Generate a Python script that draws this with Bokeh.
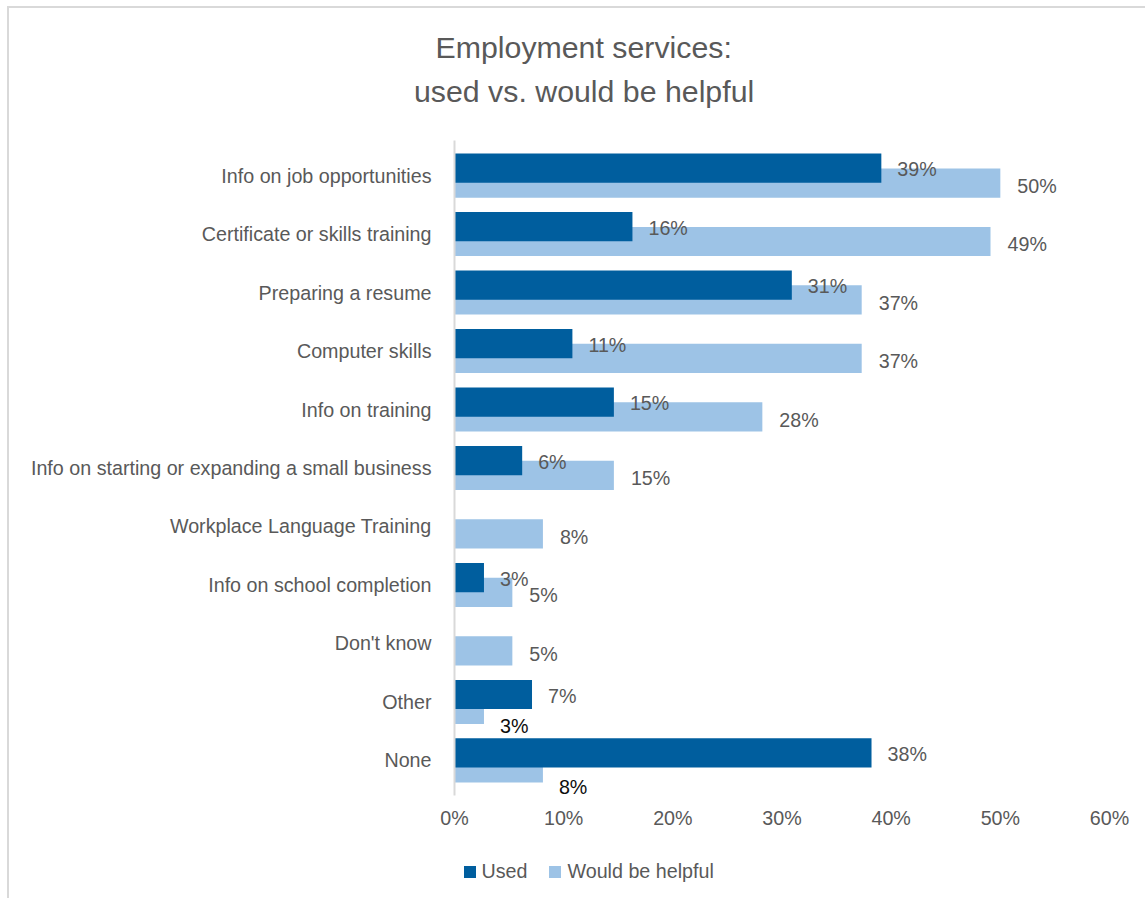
from bokeh.plotting import figure
from bokeh.layouts import column
from bokeh.models import (FactorRange, Range1d, ColumnDataSource, LabelSet, Label, Title,
                          Legend, LegendItem, FixedTicker, NumeralTickFormatter)
from bokeh.core.properties import value
from bokeh.transform import dodge
from bokeh.embed import file_html
from bokeh.resources import INLINE

# ---------------- data ----------------
categories = [
    "Info on job opportunities",
    "Certificate or skills training",
    "Preparing a resume",
    "Computer skills",
    "Info on training",
    "Info on starting or expanding a small business",
    "Workplace Language Training",
    "Info on school completion",
    "Don't know",
    "Other",
    "None",
]
used = [0.391, 0.163, 0.309, 0.108, 0.146, 0.062, 0.0, 0.027, 0.0, 0.071, 0.382]
helpful = [0.500, 0.491, 0.373, 0.373, 0.282, 0.146, 0.081, 0.053, 0.053, 0.027, 0.081]
used_labels = ["39%", "16%", "31%", "11%", "15%", "6%", "", "3%", "", "7%", "38%"]
helpful_labels = ["50%", "49%", "37%", "37%", "28%", "15%", "8%", "5%", "5%", "3%", "8%"]
x_ticks = [0.0, 0.1, 0.2, 0.3, 0.4, 0.5, 0.6]
series_names = ["Used", "Would be helpful"]
title_lines = ["Employment services:", "used vs. would be helpful"]

# ---------------- style ----------------
FONT = "Liberation Sans"
FS = "19.7px"
DARK = "#005E9E"
LIGHT = "#9DC3E6"
TXT = "#595959"
BORDER = "2px solid #D9D9D9"
OFF = 0.127
BAR_H = 0.50

n_special = 2  # last two "would be helpful" labels are drawn lower, in black
src = ColumnDataSource(dict(cat=categories, used=used, helpful=helpful,
                            ul=used_labels, hl=helpful_labels))
src_h_main = ColumnDataSource(dict(cat=categories[:-n_special], helpful=helpful[:-n_special],
                                   hl=helpful_labels[:-n_special]))

p = figure(width=1138, height=830,
           y_range=FactorRange(*reversed(categories), range_padding=0.1,
                               range_padding_units="absolute"),
           x_range=Range1d(0, 0.6),
           output_backend="svg", toolbar_location=None,
           min_border_left=445, min_border_right=38,
           min_border_top=132, min_border_bottom=43)
p.margin = (6, 0, 0, 7)
p.styles = {"border-top": BORDER, "border-left": BORDER}
p.outline_line_color = None
p.xgrid.grid_line_color = None
p.ygrid.grid_line_color = None
p.background_fill_color = "white"
p.border_fill_color = "white"

r_help = p.hbar(y=dodge("cat", -OFF, range=p.y_range), left=0, right="helpful",
                height=BAR_H, source=src, fill_color=LIGHT, line_color=None)
r_used = p.hbar(y=dodge("cat", OFF, range=p.y_range), left=0, right="used",
                height=BAR_H, source=src, fill_color=DARK, line_color=None)

# axes
p.xaxis.ticker = FixedTicker(ticks=x_ticks)
p.xaxis.formatter = NumeralTickFormatter(format="0%")
p.xaxis.axis_line_color = None
p.xaxis.major_tick_line_color = None
p.xaxis.minor_tick_line_color = None
p.xaxis.major_label_text_font = FONT
p.xaxis.major_label_text_font_size = FS
p.xaxis.major_label_text_color = TXT
p.xaxis.major_label_standoff = 5

p.yaxis.axis_line_color = "#D9D9D9"
p.yaxis.axis_line_width = 2
p.yaxis.major_tick_line_color = None
p.yaxis.minor_tick_line_color = None
p.yaxis.major_label_text_font = FONT
p.yaxis.major_label_text_font_size = FS
p.yaxis.major_label_text_color = TXT
p.yaxis.major_label_standoff = 17

# data labels
p.add_layout(LabelSet(x="used", y=dodge("cat", OFF, range=p.y_range), text="ul", source=src,
                      x_offset=16, y_offset=-1, text_baseline="middle", text_align="left",
                      text_font=value(FONT), text_font_size=value(FS), text_color=TXT))
p.add_layout(LabelSet(x="helpful", y=dodge("cat", -OFF, range=p.y_range), text="hl",
                      source=src_h_main, x_offset=17, y_offset=-3, text_baseline="middle",
                      text_align="left", text_font=value(FONT), text_font_size=value(FS),
                      text_color=TXT))
special_drop = [17, 19]
for k, drop in zip(range(len(categories) - n_special, len(categories)), special_drop):
    p.add_layout(Label(x=helpful[k], y=len(categories) - 1 - k + 0.5 - OFF,
                       text=helpful_labels[k], x_offset=16, y_offset=-drop,
                       text_baseline="middle", text_align="left",
                       text_font=FONT, text_font_size=FS, text_color="#0D0D0D"))

# title: spacer, then line 2, then line 1 (stacked outward from the frame)
p.add_layout(Title(text=" ", text_font_size="10px", standoff=20), "above")
p.add_layout(Title(text=title_lines[1], align="left", offset=-40.5, standoff=0,
                   vertical_align="bottom", text_font=FONT, text_font_size="30.3px",
                   text_font_style="normal", text_color=TXT), "above")
p.add_layout(Title(text=title_lines[0], align="left", offset=-19, standoff=18,
                   vertical_align="bottom", text_font=FONT, text_font_size="30.3px",
                   text_font_style="normal", text_color=TXT), "above")

# legend strip (separate small figure directly below the chart; its frame aligns with the chart's)
lg = figure(width=1138, height=62, x_range=Range1d(0, 1), y_range=Range1d(0, 1),
            output_backend="svg", toolbar_location=None,
            x_axis_type=None, y_axis_type=None,
            min_border_left=0, min_border_right=0, min_border_top=0, min_border_bottom=0)
lg.margin = (0, 0, 0, 7)
lg.styles = {"border-left": BORDER}
lg.outline_line_color = None
lg.xgrid.grid_line_color = None
lg.ygrid.grid_line_color = None
# zero-size proxies carrying the series styles for the legend swatches
lr_used = lg.hbar(y=0.5, left=0, right=0, height=0, source=src,
                  fill_color=DARK, line_color=None)
lr_help = lg.hbar(y=0.5, left=0, right=0, height=0, source=src,
                  fill_color=LIGHT, line_color=None)
legend = Legend(items=[LegendItem(label=series_names[0], renderers=[lr_used]),
                       LegendItem(label=series_names[1], renderers=[lr_help])],
                orientation="horizontal", location=(7.5, 15),
                glyph_width=15, glyph_height=15, label_standoff=5, spacing=20,
                label_height=24, padding=0, margin=0,
                border_line_alpha=0, background_fill_alpha=0,
                label_text_font=FONT, label_text_font_size=FS, label_text_color=TXT)
lg.add_layout(legend, "center")

layout = column(p, lg, spacing=0)
open("out.html", "w").write(file_html(layout, INLINE))
